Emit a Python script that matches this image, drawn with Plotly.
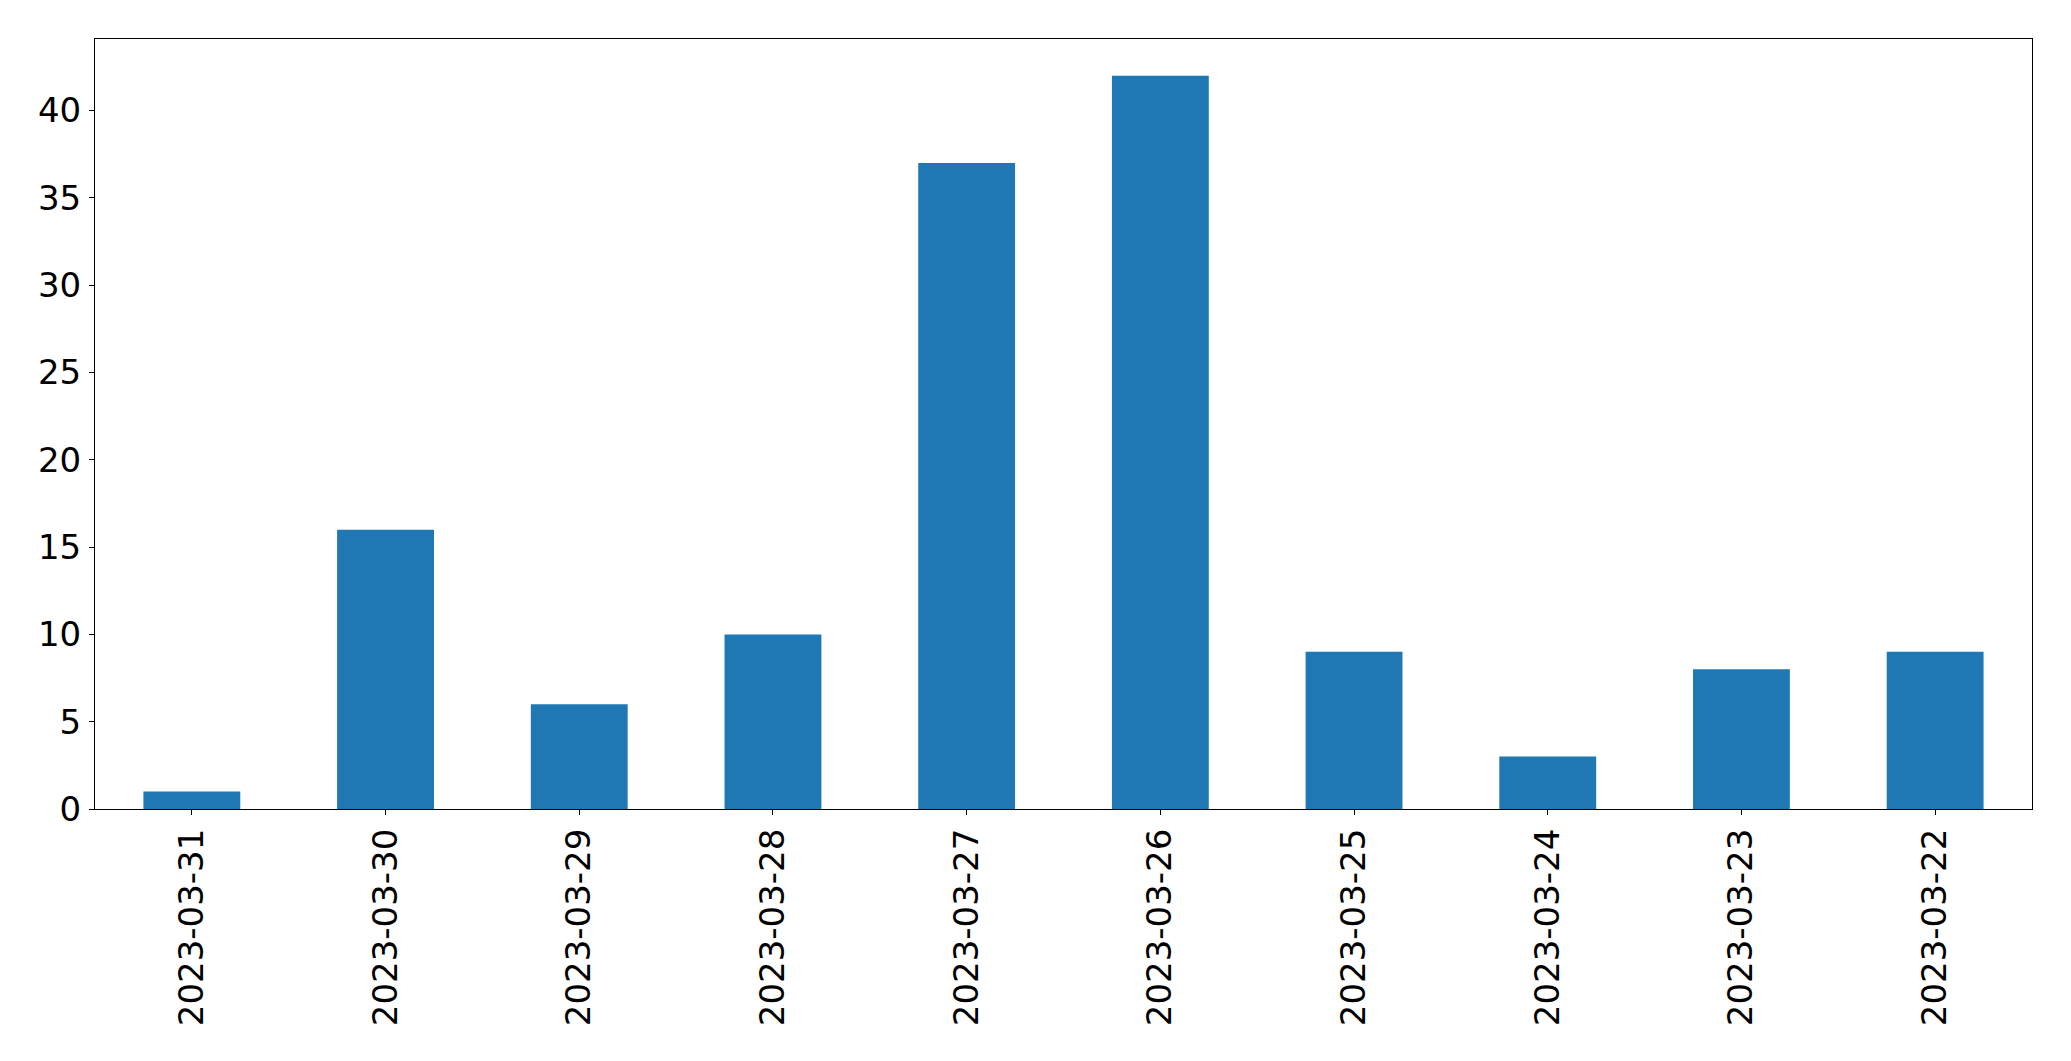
import plotly.graph_objects as go

dates = ["2023-03-31", "2023-03-30", "2023-03-29", "2023-03-28", "2023-03-27",
         "2023-03-26", "2023-03-25", "2023-03-24", "2023-03-23", "2023-03-22"]
counts = [1, 16, 6, 10, 37, 42, 9, 3, 8, 9]
y_ticks = [0, 5, 10, 15, 20, 25, 30, 35, 40]

# the page body adds an 8px margin, so the figure is sized to fit inside it
W, H = 2055, 1045
fig = go.Figure(go.Bar(x=dates, y=counts, marker=dict(color="#1f77b4", line=dict(width=0)),
                       width=0.5))

font = dict(family="DejaVu Sans", size=34, color="black")
fig.update_layout(
    width=W, height=H,
    margin=dict(l=87, r=31, t=31, b=244, pad=0, autoexpand=False),
    paper_bgcolor="white", plot_bgcolor="white",
    showlegend=False,
    font=font,
    bargap=0.5,
)
fig.update_xaxes(
    type="category", range=[-0.5, len(dates) - 0.5], automargin=False,
    tickangle=-90, ticks="outside", ticklen=5, tickwidth=1.1, tickcolor="black",
    showline=True, linecolor="black", linewidth=1.1, mirror=True,
    showgrid=False, zeroline=False, tickfont=font, ticklabelstandoff=0,
)
fig.update_yaxes(
    range=[0, max(counts) * 1.05], tickvals=y_ticks, automargin=False,
    ticks="outside", ticklen=5, tickwidth=1.1, tickcolor="black",
    showline=True, linecolor="black", linewidth=1.1, mirror=True,
    showgrid=False, zeroline=False, tickfont=font, ticklabelstandoff=1,
)
fig.write_html("out.html")
